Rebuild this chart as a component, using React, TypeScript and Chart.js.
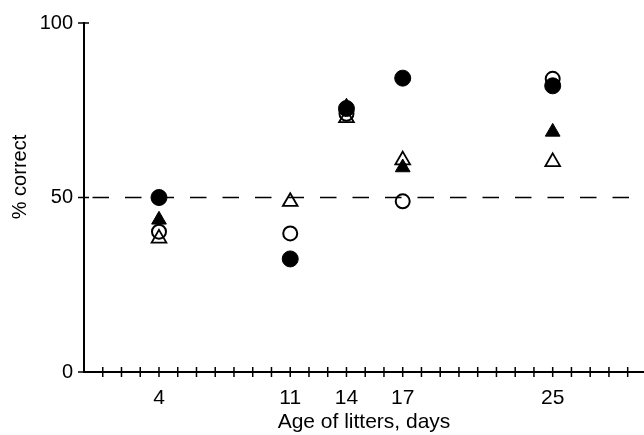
import React, { useEffect, useRef } from "react";
import { Chart, registerables } from "chart.js";

Chart.register(...registerables);

// Age of litters (days)
const days = [4, 11, 14, 17, 25];
// % correct for each series (null = no point)
const filledCircle = [50, 32.4, 75.5, 84.2, 82];
const openCircle = [40.2, 39.7, 74, 48.9, 84];
const filledTriangle: (number | null)[] = [43.6, null, 76, 58.6, 68.8];
const openTriangle = [38.3, 48.8, 72.8, 60.7, 60.2];

const xLabelDays = [4, 11, 14, 17, 25];
const minorTickDays = Array.from({ length: 30 }, (_, i) => i);
const yTickValues = [0, 50, 100];
const chanceLevel = 50;
const xMax = 29.87;

const FONT = "'Liberation Sans', Arial, Helvetica, sans-serif";

function toPoints(vals: (number | null)[]) {
  return days
    .map((d, i) => (vals[i] == null ? null : { x: d, y: vals[i] as number }))
    .filter((p) => p !== null);
}

const axisDecor = {
  id: "axisDecor",
  afterDraw(chart: any) {
    const { ctx, scales } = chart;
    const x = scales.x;
    const y = scales.y;
    const y0 = y.getPixelForValue(0);
    const x0 = x.getPixelForValue(0);
    ctx.save();
    ctx.strokeStyle = "#000";
    ctx.lineWidth = 1.5;
    ctx.beginPath();
    for (const d of minorTickDays) {
      if (d === 0) continue;
      const px = x.getPixelForValue(d);
      ctx.moveTo(px, y0 - 5);
      ctx.lineTo(px, y0 + 5);
    }
    for (const v of yTickValues) {
      const py = y.getPixelForValue(v);
      ctx.moveTo(x0 - 6, py);
      ctx.lineTo(x0 + (v === 0 ? 0 : 5), py);
    }
    ctx.stroke();
    // y-axis title
    ctx.translate(20, 177);
    ctx.rotate(-Math.PI / 2);
    ctx.fillStyle = "#000";
    ctx.font = `20px ${FONT}`;
    ctx.textAlign = "center";
    ctx.textBaseline = "middle";
    ctx.fillText("% correct", 0, 0);
    ctx.restore();
  },
};

export default function App() {
  const ref = useRef<HTMLCanvasElement | null>(null);

  useEffect(() => {
    if (!ref.current) return;
    const chart = new Chart(ref.current, {
      type: "scatter",
      data: {
        datasets: [
          {
            type: "line",
            data: [
              { x: 0, y: chanceLevel },
              { x: xMax, y: chanceLevel },
            ],
            borderColor: "#000",
            borderWidth: 1.7,
            borderDash: [16.5, 16],
            borderDashOffset: 24,
            pointRadius: 0,
            showLine: true,
            fill: false,
            order: 10,
          } as any,
          {
            data: toPoints(openTriangle),
            pointStyle: "triangle",
            pointRadius: 8.5,
            backgroundColor: "rgba(0,0,0,0)",
            borderColor: "#000",
            borderWidth: 1.8,
            order: 4,
          },
          {
            data: toPoints(openCircle),
            pointStyle: "circle",
            pointRadius: 7,
            backgroundColor: "rgba(0,0,0,0)",
            borderColor: "#000",
            borderWidth: 2,
            order: 3,
          },
          {
            data: toPoints(filledTriangle),
            pointStyle: "triangle",
            pointRadius: 8.5,
            backgroundColor: "#000",
            borderColor: "#000",
            borderWidth: 1,
            order: 2,
          },
          {
            data: toPoints(filledCircle),
            pointStyle: "circle",
            pointRadius: 8,
            backgroundColor: "#000",
            borderColor: "#000",
            borderWidth: 1,
            order: 1,
          },
        ],
      },
      options: {
        responsive: false,
        animation: false,
        layout: { autoPadding: false, padding: { top: 23, right: 0, bottom: 0, left: 0 } },
        plugins: {
          legend: { display: false },
          tooltip: { enabled: false },
        },
        scales: {
          x: {
            type: "linear",
            min: 0,
            max: xMax,
            afterBuildTicks: (scale: any) => {
              scale.ticks = minorTickDays.map((v) => ({ value: v }));
            },
            afterFit: (scale: any) => {
              scale.height = 63;
              scale.paddingRight = 0;
              scale.paddingLeft = 0;
            },
            grid: { display: false, drawTicks: true, tickLength: 14 },
            border: { display: true, color: "#000", width: 2 },
            ticks: {
              autoSkip: false,
              maxRotation: 0,
              padding: 0,
              color: "#000",
              font: { size: 21, family: FONT },
              callback: (v: any) => (xLabelDays.includes(Number(v)) ? String(v) : ""),
            },
            title: {
              display: true,
              text: "Age of litters, days",
              color: "#000",
              font: { size: 21, family: FONT, lineHeight: 1 },
              padding: { top: 0, bottom: 2 },
            },
          },
          y: {
            min: 0,
            max: 100,
            afterBuildTicks: (scale: any) => {
              scale.ticks = yTickValues.map((v) => ({ value: v }));
            },
            afterFit: (scale: any) => {
              scale.width = 84;
            },
            grid: { display: false, drawTicks: false },
            border: { display: true, color: "#000", width: 2 },
            ticks: {
              padding: 11,
              color: "#000",
              font: { size: 20, family: FONT },
              callback: (v: any) => String(v),
            },
            title: { display: false },
          },
        },
      },
      plugins: [axisDecor],
    });
    return () => chart.destroy();
  }, []);

  return (
    <div style={{ position: "fixed", left: 0, top: 0, width: 644, height: 435, background: "#fff" }}>
      <canvas ref={ref} width={644} height={435} />
    </div>
  );
}
